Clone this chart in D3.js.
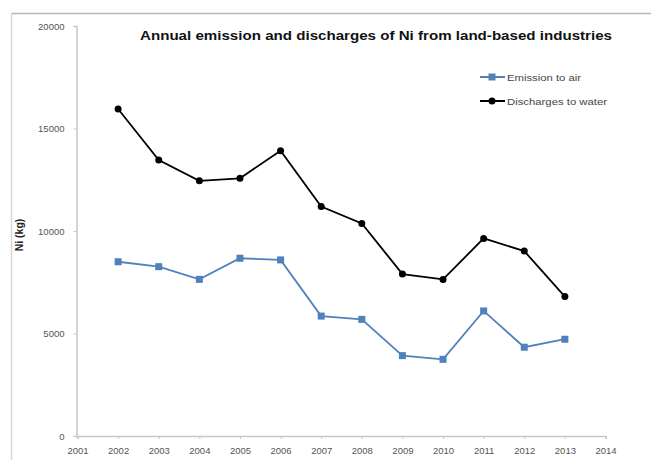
<!DOCTYPE html>
<html><head><meta charset="utf-8">
<script src="https://cdn.jsdelivr.net/npm/d3@7"></script>
<style>body{margin:0;background:#fff;} svg{display:block;}</style>
</head><body>
<svg id="c" width="651" height="460"></svg>
<script>
const years = [2002,2003,2004,2005,2006,2007,2008,2009,2010,2011,2012,2013];
const emissionAir = [8500,8260,7640,8670,8590,5850,5690,3920,3740,6100,4330,4720];
const dischargesWater = [15950,13460,12450,12570,13920,11190,10370,7900,7640,9640,9020,6800];
const xTicks = [2001,2002,2003,2004,2005,2006,2007,2008,2009,2010,2011,2012,2013,2014];
const yTicks = [0,5000,10000,15000,20000];
const seriesNames = ["Emission to air","Discharges to water"];
const titleText = "Annual emission and discharges of Ni from land-based industries";
const yTitle = "Ni (kg)";

const svg = d3.select("#c");
const font = "'Liberation Sans', Arial, sans-serif";

// frame
svg.append("line").attr("x1",11).attr("x2",651).attr("y1",13.5).attr("y2",13.5).attr("stroke","#b8b8b8").attr("stroke-width",1.5);
svg.append("line").attr("x1",11.5).attr("x2",11.5).attr("y1",13).attr("y2",460).attr("stroke","#d8d8d8").attr("stroke-width",1.5);

const x = d3.scaleLinear().domain([2001,2014]).range([77.5,605.5]);
const y = d3.scaleLinear().domain([0,20000]).range([436,26]);

const gx = svg.append("g").attr("transform","translate(0,436)")
  .call(d3.axisBottom(x).tickValues(xTicks).tickFormat(d3.format("d")).tickSize(3).tickPadding(8));
const gy = svg.append("g").attr("transform","translate(76.5,0)")
  .call(d3.axisLeft(y).tickValues(yTicks).tickFormat(d3.format("d")).tickSize(3).tickPadding(9));
[gx,gy].forEach(g=>{
  g.select(".domain").attr("stroke","#c8c8c8").attr("stroke-width",1.5);
  g.selectAll(".tick line").attr("stroke","#c8c8c8");
  g.selectAll("text").attr("fill","#555").style("font-family",font).style("font-size","9.5px");
});

const line = d3.line().x((d,i)=>x(years[i])).y(d=>y(d));

svg.append("path").datum(emissionAir).attr("d",line).attr("fill","none").attr("stroke","#4f81bd").attr("stroke-width",1.8);
svg.append("path").datum(dischargesWater).attr("d",line).attr("fill","none").attr("stroke","#000").attr("stroke-width",1.8);

svg.selectAll(".sq").data(emissionAir).join("rect").attr("class","sq")
  .attr("x",(d,i)=>x(years[i])-3.5).attr("y",d=>y(d)-3.5).attr("width",7).attr("height",7).attr("fill","#4f81bd");
svg.selectAll(".ci").data(dischargesWater).join("circle").attr("class","ci")
  .attr("cx",(d,i)=>x(years[i])).attr("cy",d=>y(d)).attr("r",3.5).attr("fill","#000");

// title
svg.append("text").attr("x",140).attr("y",40).text(titleText)
  .attr("textLength",472).attr("lengthAdjust","spacingAndGlyphs")
  .style("font-family",font).style("font-weight","bold").style("font-size","13px").attr("fill","#111");

// y title
svg.append("text").attr("transform","translate(23,235) rotate(-90)").attr("text-anchor","middle")
  .text(yTitle).style("font-family",font).style("font-weight","bold").style("font-size","10.5px").attr("fill","#222");

// legend
const leg = [{c:"#4f81bd",shape:"sq",y:77,t:seriesNames[0],w:74},{c:"#000",shape:"ci",y:101,t:seriesNames[1],w:100}];
leg.forEach(l=>{
  svg.append("line").attr("x1",480).attr("x2",505).attr("y1",l.y).attr("y2",l.y).attr("stroke",l.c).attr("stroke-width",2);
  if(l.shape==="sq") svg.append("rect").attr("x",488.5).attr("y",l.y-3.5).attr("width",7).attr("height",7).attr("fill",l.c);
  else svg.append("circle").attr("cx",492).attr("cy",l.y).attr("r",3.5).attr("fill",l.c);
  svg.append("text").attr("x",507).attr("y",l.y+3.5).text(l.t).attr("textLength",l.w).attr("lengthAdjust","spacingAndGlyphs")
    .style("font-family",font).style("font-size","9.5px").attr("fill","#444");
});
</script>
</body></html>
